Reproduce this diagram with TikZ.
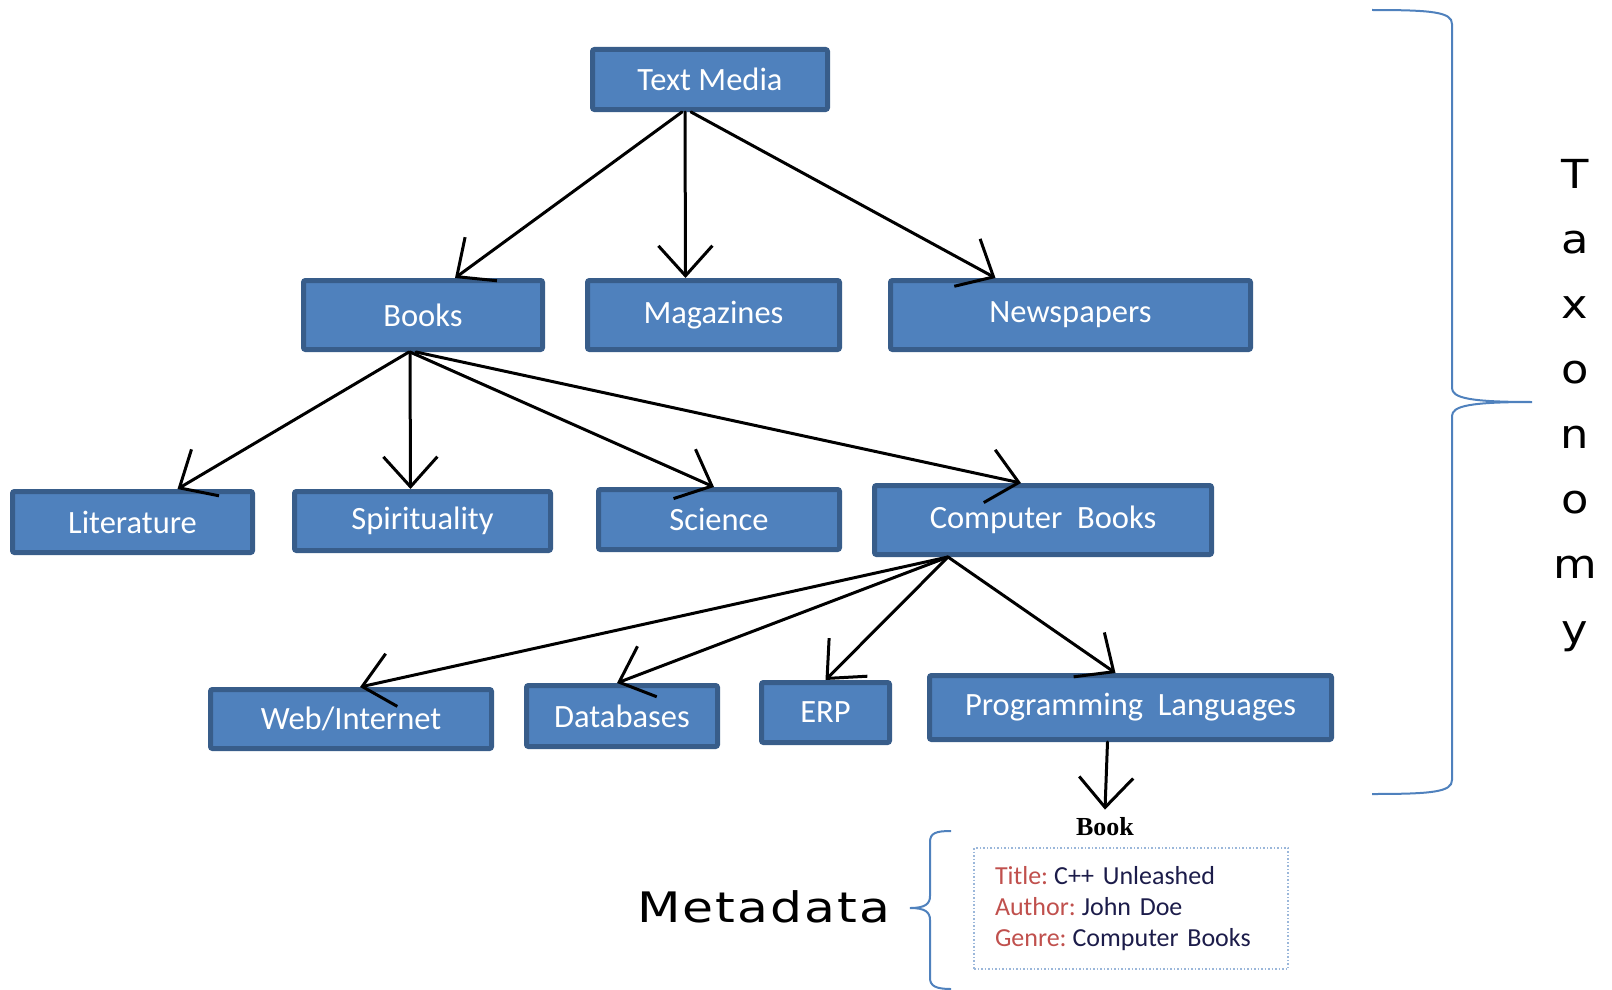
\documentclass[tikz,border=0pt]{standalone}
\usepackage{fontspec}
\setmainfont{Carlito}
\newfontfamily\cardfont[WordSpace=0.8]{Carlito}
\newfontfamily\handfont{DejaVu Sans}
\newfontfamily\metafont[LetterSpace=4]{DejaVu Sans}
\newfontfamily\labelserif{Liberation Serif}
\usetikzlibrary{arrows.meta}

\definecolor{boxfill}{HTML}{4F81BD}
\definecolor{boxline}{HTML}{385D8A}
\definecolor{keyred}{HTML}{C0504D}
\definecolor{valnavy}{HTML}{1C1C4A}
\definecolor{dotline}{HTML}{9BB7DA}

\newcommand{\kv}[2]{\textcolor{keyred}{#1:}\hspace{6pt}\textcolor{valnavy}{#2}}

\tikzset{
  cat/.style={draw=boxline, fill=boxfill, line width=5pt, rounded corners=2pt,
    text=white, font=\fontsize{32.5}{36}\selectfont, inner sep=0pt, align=center},
  link/.style={line width=3pt, line cap=round,
    -{Straight Barb[length=30pt,width=54pt,line width=3pt]}},
  brace/.style={draw=boxfill, line width=2pt},
  card/.style={draw=dotline, dotted, line width=1.5pt, minimum width=314pt,
    minimum height=121pt, text width=272pt, inner xsep=21pt, align=left,
    font=\cardfont\fontsize{26}{31}\selectfont},
  taxletter/.style={font=\handfont\fontsize{40}{40}\selectfont, anchor=base, inner sep=0pt},
}

\begin{document}
\begin{tikzpicture}[x=1pt, y=-1pt]
\useasboundingbox (0,0) rectangle (1612,990);

% category boxes
\node[cat, minimum width=235pt, minimum height=60pt] (tm)    at (710,79.5)   {Text Media};
\node[cat, minimum width=239pt, minimum height=69pt] (books) at (423,315)    {Books};
\node[cat, minimum width=252pt, minimum height=69pt] (mag)   at (713.5,315)  {Magazines};
\node[cat, minimum width=360pt, minimum height=69pt] (news)  at (1070.5,315) {Newspapers};
\node[cat, minimum width=240pt, minimum height=61pt] (lit)   at (132.5,522)  {Literature};
\node[cat, minimum width=256pt, minimum height=59pt] (spir)  at (422.5,521)  {Spirituality};
\node[cat, minimum width=241pt, minimum height=60pt] (sci)   at (719,519.5)  {Science};
\node[cat, minimum width=337pt, minimum height=69pt] (cb)    at (1043,520)   {Computer~ Books};
\node[cat, minimum width=281pt, minimum height=59pt] (web)   at (351,719)    {Web/Internet};
\node[cat, minimum width=191pt, minimum height=61pt] (db)    at (622,716)    {Databases};
\node[cat, minimum width=128pt, minimum height=60pt] (erp)   at (825.5,712.5){ERP};
\node[cat, minimum width=402pt, minimum height=64pt] (pl)    at (1130.5,707.5){Programming~ Languages};

% item and its metadata
\node[font=\labelserif\bfseries\fontsize{26}{30}\selectfont, inner sep=2pt] (book) at (1105,827) {Book};
\node[card] (meta) at (1131,908.5) {%
  \kv{Title}{C++ Unleashed}\\
  \kv{Author}{John Doe}\\
  \kv{Genre}{Computer Books}};

% hierarchy links
\draw[link] ([xshift=-28pt]tm.south) -- ([xshift=32pt]books.north);
\draw[link] ([xshift=-25pt]tm.south) -- ([xshift=-28pt]mag.north);
\draw[link] ([xshift=-19pt]tm.south) -- ([xshift=-75pt]news.north);

\draw[link] ([xshift=-14pt]books.south) -- ([xshift=45pt]lit.north);
\draw[link] ([xshift=-13pt]books.south) -- ([xshift=-12pt]spir.north);
\draw[link] ([xshift=-13pt]books.south) -- ([xshift=-5pt]sci.north);
\draw[link] ([xshift=-7pt]books.south)  -- ([xshift=-22pt]cb.north);

\draw[link] ([xshift=-95pt]cb.south) -- ([xshift=9pt]web.north);
\draw[link] ([xshift=-95pt]cb.south) -- ([xshift=-5pt]db.north);
\draw[link] ([xshift=-95pt]cb.south) -- (erp.north);
\draw[link] ([xshift=-95pt]cb.south) -- ([xshift=-15pt]pl.north);

\draw[link] ([xshift=-23pt]pl.south) -- ([yshift=6pt]book.north);

% taxonomy brace and label
\draw[brace] (1372,10) .. controls (1432,10) and (1452,12) .. (1452,24)
  -- (1452,388) .. controls (1452,398) and (1470,402) .. (1532,402)
  .. controls (1470,402) and (1452,406) .. (1452,416)
  -- (1452,780) .. controls (1452,792) and (1432,794) .. (1372,794);
\foreach \ch [count=\i] in {T,a,x,o,n,o,m,y}
  \node[taxletter] (tax\i) at (1575,{123+65*\i}) {\scalebox{1.12}[1]{\ch}};

% metadata brace and label
\draw[brace] (951,831) .. controls (936,831) and (930,833) .. (930,842)
  -- (930,896) .. controls (930,904) and (925,908) .. (910,908)
  .. controls (925,908) and (930,912) .. (930,920)
  -- (930,978) .. controls (930,986) and (936,989) .. (951,989);
\node[font=\metafont\fontsize{42}{42}\selectfont, anchor=base west, inner sep=0pt]
  (metalabel) at (637,922) {\scalebox{1.2}[1]{Metadata}};
\end{tikzpicture}
\end{document}
